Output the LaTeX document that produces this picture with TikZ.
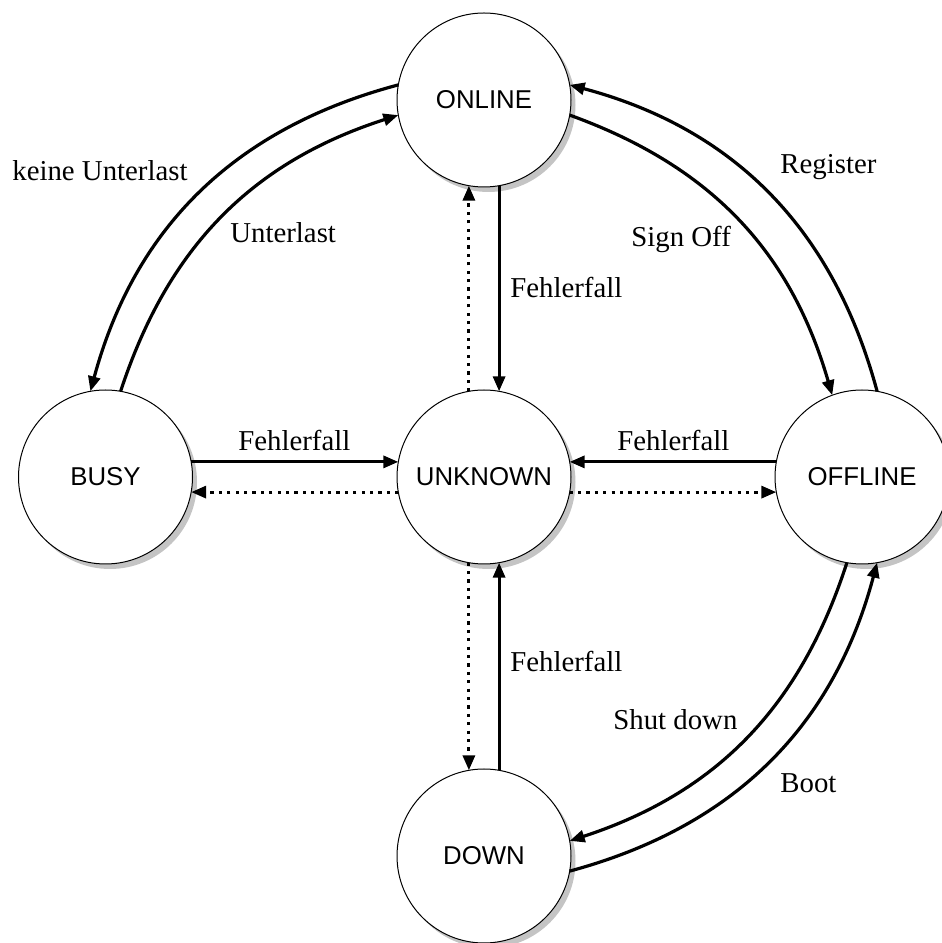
\documentclass[tikz,border=0pt]{standalone}
\usepackage{fontspec}
\setmainfont{Liberation Serif}
\newfontfamily\statefont{Liberation Sans}
\usetikzlibrary{arrows.meta}

\definecolor{shadowgrey}{RGB}{196,196,196}

\tikzset{
  state/.style={circle, draw=black, line width=0.5pt, fill=white,
    minimum size=87pt, inner sep=0pt, outer sep=0pt,
    font=\statefont\fontsize{12.9}{15}\selectfont},
  stateshadow/.style={fill=shadowgrey},
  trans/.style={line width=1.6pt, -{Triangle[length=7.5pt,width=6pt]}},
  dottrans/.style={trans, dash pattern=on 1.6pt off 2.6pt},
  lbl/.style={inner sep=0pt, anchor=base west, font=\fontsize{14.4}{17}\selectfont},
}

\begin{document}
\begin{tikzpicture}[x=0.5pt,y=0.5pt]
  \useasboundingbox (0,0) rectangle (942,943);
  \clip (0,0) rectangle (942,943);

  % shadows below the states
  \foreach \cx/\cy in {484/843, 105.5/466, 484/466, 862/466, 484/87}
    \fill[stateshadow] (\cx+4.5,\cy-5) circle[radius=87];

  % states
  \node[state] (online)  at (484,843) {ONLINE};
  \node[state] (busy)    at (105.5,466) {BUSY};
  \node[state] (unknown) at (484,466) {UNKNOWN};
  \node[state] (offline) at (862,466) {OFFLINE};
  \node[state] (down)    at (484,87)  {DOWN};

  % ONLINE <-> BUSY
  \draw[trans] (online.170) to[bend right=30] (busy.100);
  \draw[trans] (busy.80) to[bend left=27] (online.190);

  % ONLINE <-> OFFLINE
  \draw[trans] (offline.80) to[bend right=30] (online.10);
  \draw[trans] (online.-10) to[bend left=27] (offline.110);

  % OFFLINE <-> DOWN
  \draw[trans] (offline.-100) to[bend left=27] (down.10);
  \draw[trans] (down.-10) to[bend right=30] (offline.-80);

  % transitions into UNKNOWN (solid) and out of it (dotted)
  \draw[trans] (online.-80) -- (unknown.80);
  \draw[dottrans] (unknown.100) -- (online.-100);
  \draw[trans] (busy.10) -- (unknown.170);
  \draw[dottrans] (unknown.190) -- (busy.-10);
  \draw[trans] (offline.170) -- (unknown.10);
  \draw[dottrans] (unknown.-10) -- (offline.190);
  \draw[trans] (down.80) -- (unknown.-80);
  \draw[dottrans] (unknown.-100) -- (down.100);

  % labels
  \node[lbl] (l1)  at (12,762)  {keine Unterlast};
  \node[lbl] (l2)  at (230,700) {Unterlast};
  \node[lbl] (l3)  at (780,769) {Register};
  \node[lbl] (l4)  at (631,696) {Sign Off};
  \node[lbl] (l5)  at (510,645) {Fehlerfall};
  \node[lbl] (l6)  at (238,492) {Fehlerfall};
  \node[lbl] (l7)  at (617,492) {Fehlerfall};
  \node[lbl] (l8)  at (510,271) {Fehlerfall};
  \node[lbl] (l9)  at (613,213) {Shut down};
  \node[lbl] (l10) at (780,150) {Boot};
\end{tikzpicture}
\end{document}
